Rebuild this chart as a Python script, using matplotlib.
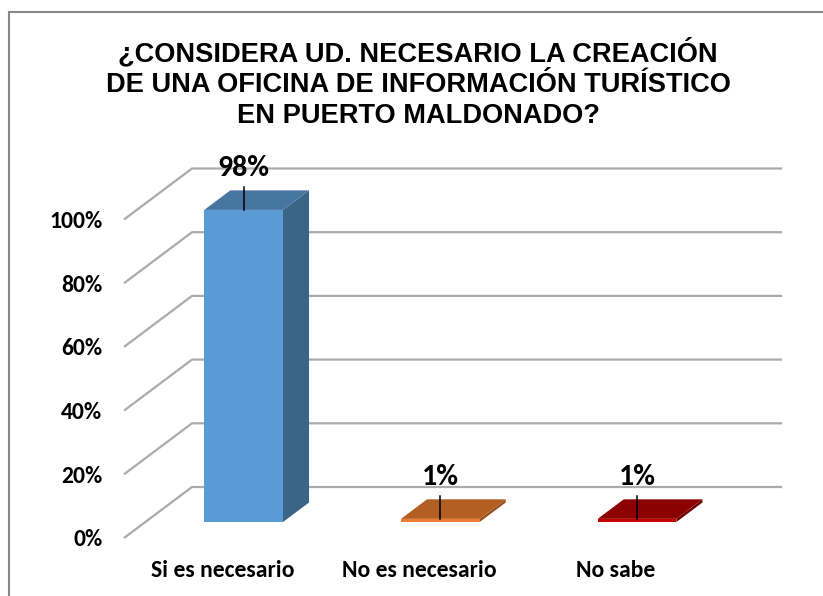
import matplotlib
matplotlib.use("Agg")
import matplotlib.pyplot as plt
from matplotlib.patches import Polygon, Rectangle

# ---- data ----
categories = ["Si es necesario", "No es necesario", "No sabe"]
values = [98, 1, 1]
value_labels = ["98%", "1%", "1%"]
tick_values = [0, 20, 40, 60, 80, 100]
tick_labels = ["0%", "20%", "40%", "60%", "80%", "100%"]
title_lines = ["¿CONSIDERA UD. NECESARIO LA CREACIÓN",
               "DE UNA OFICINA DE INFORMACIÓN TURÍSTICO",
               "EN PUERTO MALDONADO?"]

# ---- style ----
front_colors = ["#5B9BD5", "#ED7D31", "#C00000"]
top_colors = ["#4575A0", "#B35E22", "#8B0000"]
side_colors = ["#3A6488", "#9A5020", "#700000"]
grid_color = "#ABABAB"
label_font = "Carlito"

W, H, DPI = 823, 596, 100
fig = plt.figure(figsize=(W / DPI, H / DPI), dpi=DPI)

# axes: x from -0.5..2.5 (floor front), y 0..100
px_cat = 196.7
px_pct = 3.185
left_px = 124
bottom_px = 538
ax = fig.add_axes([left_px / W, (H - bottom_px) / H,
                   3 * px_cat / W, 100 * px_pct / H])
ax.set_xlim(-0.5, 2.5)
ax.set_ylim(0, 100)
for s in ax.spines.values():
    s.set_visible(False)
ax.patch.set_visible(False)

# depth offsets (data units per unit depth)
kx = 68 / px_cat
ky = 51 / px_pct
z0, z1 = 0.313, 0.696
bw = 0.2


def P(x, y, z):
    return (x + z * kx, y + z * ky)


# gridlines: floor-side diagonal + back wall
for t in tick_values:
    xs, ys = zip(P(-0.5, t, 0), P(-0.5, t, 1), P(2.5, t, 1))
    ax.plot(xs, ys, color=grid_color, lw=1.6, clip_on=False, zorder=1,
            solid_capstyle="butt")

# ticks
ax.set_yticks(tick_values)
ax.set_yticklabels(tick_labels)
ax.set_xticks(range(len(categories)))
ax.set_xticklabels(categories)
ax.tick_params(axis="y", length=0, pad=15.5)
ax.tick_params(axis="x", length=0, pad=15.5)
for lab in ax.get_yticklabels() + ax.get_xticklabels():
    lab.set_fontfamily(label_font)
    lab.set_fontweight("bold")
    lab.set_fontsize(17)
    lab.set_color("black")

# bars
for i, v in enumerate(values):
    bx, by = P(i, 0, z0)
    ax.bar(bx, v, width=2 * bw, bottom=by, color=front_colors[i],
           zorder=3, clip_on=False, linewidth=0)
    top = [P(i - bw, v, z0), P(i + bw, v, z0), P(i + bw, v, z1), P(i - bw, v, z1)]
    ax.add_patch(Polygon(top, closed=True, facecolor=top_colors[i],
                         edgecolor="none", zorder=3, clip_on=False))
    side = [P(i + bw, 0, z0), P(i + bw, v, z0), P(i + bw, v, z1), P(i + bw, 0, z1)]
    ax.add_patch(Polygon(side, closed=True, facecolor=side_colors[i],
                         edgecolor="none", zorder=2.9, clip_on=False))
    # leader + value label
    lx, ly = P(i, v, z0)
    lead = 23 / px_pct
    ax.plot([lx, lx], [ly, ly + lead], color="black", lw=1.1, zorder=4,
            clip_on=False)
    ax.text(lx, ly + lead + 19 / px_pct, value_labels[i], ha="center",
            va="center", fontsize=21.5, fontweight="bold", family=label_font,
            color="black", zorder=5, clip_on=False)

# title
baselines = [61, 92, 123]
for line, yb in zip(title_lines, baselines):
    fig.text(418 / W, 1 - yb / H, line, ha="center", va="baseline",
             fontsize=19.6, fontweight="bold", family="Liberation Sans",
             color="black")

# outer border (right/bottom outside image)
fig.add_artist(Rectangle((9 / W, -0.05), 1.1, 1 - 12 / H + 0.05,
                         transform=fig.transFigure, fill=False,
                         edgecolor="#878787", linewidth=1.5))

fig.savefig("out.png", dpi=DPI)
